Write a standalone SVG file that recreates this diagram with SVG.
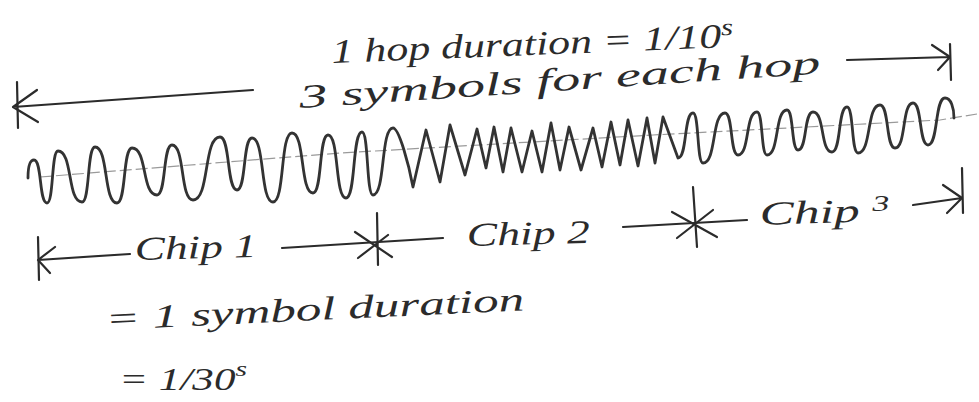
<svg xmlns="http://www.w3.org/2000/svg" width="979" height="402" viewBox="0 0 979 402">
<style>
  .ink { fill: none; stroke: #2b2b2b; stroke-width: 2.2; stroke-linecap: round; stroke-linejoin: round; }
  .wave { fill: none; stroke: #333; stroke-width: 2.8; stroke-linecap: round; stroke-linejoin: round; }
  .axis { fill: none; stroke: #9a9a9a; stroke-width: 1.2; stroke-dasharray: 12 4; }
  .hand { font-family: "Liberation Serif", "DejaVu Serif", serif; font-style: italic; fill: #2b2b2b; }
</style>
<rect width="979" height="402" fill="#ffffff"/>

<g id="signal">
  <polyline class="axis" points="40,177 340,153 653,135 940,120 977,114"/>
  <path class="wave" d="M28,178 C28,166 30,160 34,160 C42.1,160 38.9,203 47,203 C53.8,203 51.2,151 58,151 C72.9,151 67.1,202 82,202 C90.1,202 86.9,147 95,147 C108.6,147 103.4,203 117,203 C126.3,203 122.7,148 132,148 C147.5,148 141.5,195 157,195 C166.3,195 162.7,145 172,145 C185,145 180,200 193,200 C209.7,200 203.3,137 220,137 C230.5,137 226.5,190 237,190 C246.3,190 242.7,138 252,138 C265,138 260,202 273,202 C284.8,202 280.2,133 292,133 C305,133 300,193 313,193 C322.3,193 318.7,135 328,135 C339.2,135 334.8,198 346,198 C355.9,198 352.1,132 362,132 C368.8,132 366.2,195 373,195 C385.4,195 380.6,128 393,128 C399,128 409,165 413,187 L426,130 440,182 450,125 465,175 477,129 486,168 494,127 503,172 511,128 522,172 532,131 542,172 551,123 560,170 569,127 581,170 593,128 602,167 611,122 620,165 628,120 638,166 647,118 655,163 663,117 678,158 C687.3,158 683.7,113 693,113 C699.2,113 696.8,163 703,163 C716.6,163 711.4,113 725,113 C733.1,113 729.9,155 738,155 C749.8,155 745.2,112 757,112 C763.2,112 760.8,155 767,155 C779.4,155 774.6,110 787,110 C793.8,110 791.2,150 798,150 C807.3,150 803.7,112 813,112 C824.8,112 820.2,152 832,152 C841.3,152 837.7,107 847,107 C853.8,107 851.2,153 858,153 C871.6,153 866.4,105 880,105 C889.3,105 885.7,148 895,148 C906.2,148 901.8,103 913,103 C922.3,103 918.7,145 928,145 C938.5,145 934.5,98 945,98 C951,98 954,108 954,118"/>
</g>

<g id="connectors">
  <g id="hop-arrow">
    <line class="ink" x1="17" y1="82" x2="18" y2="128"/>
    <path class="ink" d="M13,107 L253,90 M37,90 L13,107 L38,122"/>
    <path class="ink" d="M847,60 L950,57 M932,45 L950,57 L938,70"/>
    <line class="ink" x1="950" y1="44" x2="951" y2="80"/>
  </g>
  <g id="chip-arrows">
    <line class="ink" x1="38" y1="237" x2="39" y2="280"/>
    <path class="ink" d="M38,260 L130,254 M55,247 L38,260 L50,273"/>
    <path class="ink" d="M282,248 L443,238"/>
    <path class="ink" d="M623,227 L747,220"/>
    <path class="ink" d="M913,205 L962,198 M943,185 L962,198 L947,213"/>
    <line class="ink" x1="962" y1="168" x2="963" y2="213"/>
  </g>
</g>

<g id="star-1">
  <path class="ink" d="M377,213 L378,265 M355,232 L392,257 M388,235 L358,258"/>
</g>
<g id="star-2">
  <path class="ink" d="M693,187 L697,247 M672,212 L717,237 M713,210 L677,238"/>
</g>

<g id="hop-label">
  <text class="hand" x="332" y="63" font-size="34" textLength="402" lengthAdjust="spacingAndGlyphs" transform="rotate(-2.3 332 63)">1 hop duration = 1/10<tspan dy="-12" font-size="24">s</tspan></text>
  <text class="hand" x="300" y="108" font-size="33" textLength="522" lengthAdjust="spacingAndGlyphs" transform="rotate(-3.8 300 108)">3 symbols for each hop</text>
</g>

<g id="chip-1">
  <text class="hand" x="135" y="260" font-size="33" textLength="122" lengthAdjust="spacingAndGlyphs" transform="rotate(-1.5 135 260)">Chip 1</text>
</g>
<g id="chip-2">
  <text class="hand" x="467" y="246" font-size="33" textLength="123" lengthAdjust="spacingAndGlyphs" transform="rotate(-1.5 467 246)">Chip 2</text>
</g>
<g id="chip-3">
  <text class="hand" x="760" y="225" font-size="33" textLength="130" lengthAdjust="spacingAndGlyphs" transform="rotate(-2 760 225)">Chip <tspan dy="-10" font-size="22">3</tspan></text>
</g>

<g id="symbol-duration">
  <text class="hand" x="106" y="330" font-size="33" textLength="419" lengthAdjust="spacingAndGlyphs" transform="rotate(-2.7 106 330)">= 1 symbol duration</text>
  <text class="hand" x="119" y="390" font-size="32" textLength="128" lengthAdjust="spacingAndGlyphs">= 1/30<tspan dy="-14" font-size="22">s</tspan></text>
</g>
</svg>
